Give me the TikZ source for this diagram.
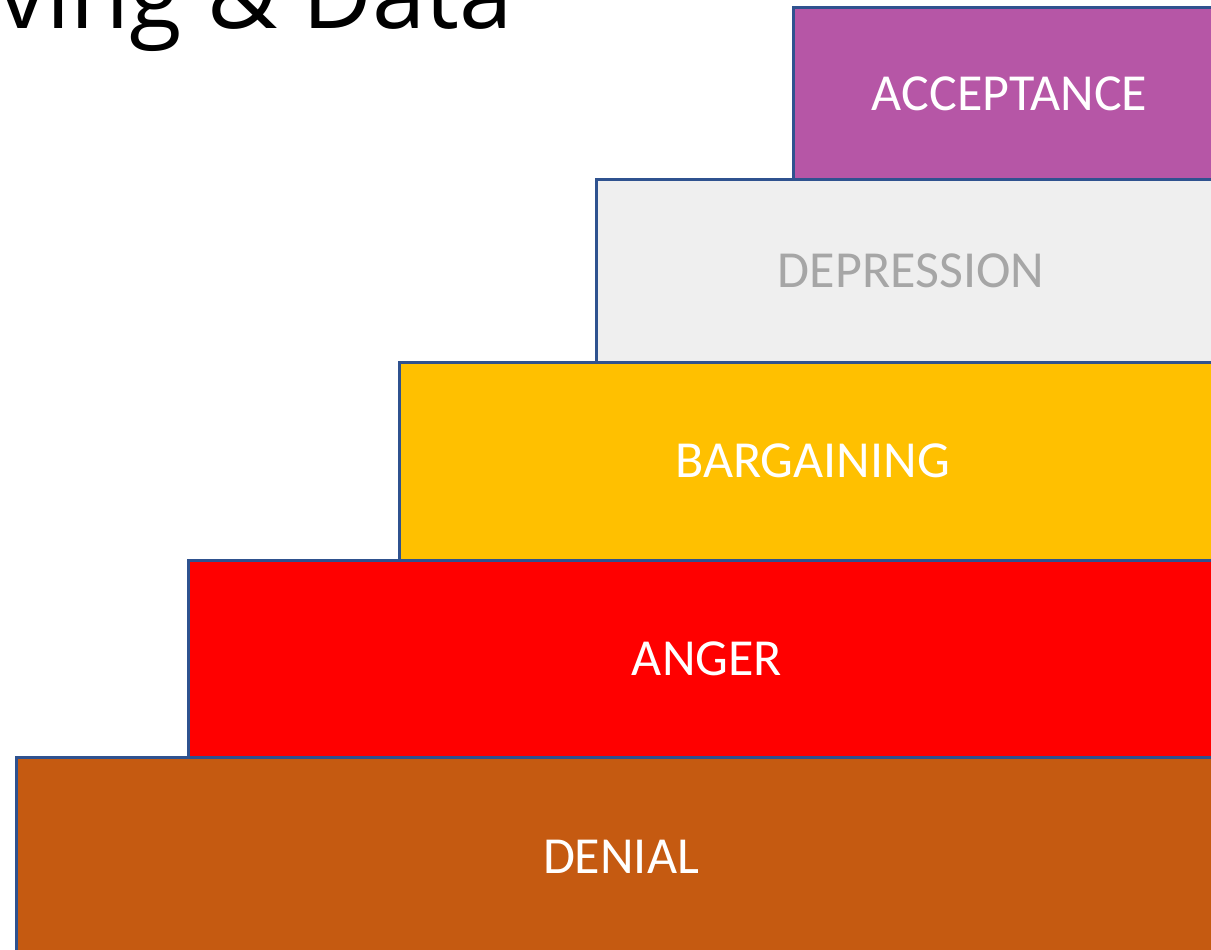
\documentclass[tikz,border=0pt]{standalone}
\usepackage{fontspec}
\setmainfont{Carlito}
\newfontfamily\titlefont{Open Sans}
\usetikzlibrary{positioning}
\definecolor{outline}{HTML}{2F528F}
\definecolor{accept}{HTML}{B656A6}
\definecolor{depress}{HTML}{EFEFEF}
\definecolor{depresstext}{HTML}{A6A6A6}
\definecolor{bargain}{HTML}{FFC000}
\definecolor{anger}{HTML}{FF0000}
\definecolor{denial}{HTML}{C55A11}
\tikzset{stage/.style = {draw=outline, line width=3, rectangle, inner sep=0, outer sep=0,
                         text=white, font=\fontsize{52}{62}\selectfont}}

\begin{document}
\begin{tikzpicture}[x=1pt, y=1pt]
      \useasboundingbox (0, 0) rectangle (1211, -950);
      \clip (0, 0) rectangle (1211, -950);

      \node [stage, fill=denial, minimum width=1210, minimum height=200, anchor=north east] (denial) at (1226, -757) {DENIAL};
      \node [stage, fill=anger, minimum width=1038, minimum height=197, above left=0 and 0 of denial.north east] (anger) {ANGER};
      \node [stage, fill=bargain, minimum width=827, minimum height=198, above left=0 and 0 of anger.north east] (bargain) {BARGAINING};
      \node [stage, fill=depress, text=depresstext, minimum width=630, minimum height=183, above left=0 and 0 of bargain.north east] (depress) {DEPRESSION};
      \node [stage, fill=accept, minimum width=433, minimum height=171, above left=0 and 0 of depress.north east] (accept) {ACCEPTANCE};

      \node [anchor=base east, inner sep=0, font=\titlefont\fontsize{96}{110}\selectfont] (title) at (513, -29) {ving \& Data};
    \end{tikzpicture}
\end{document}
